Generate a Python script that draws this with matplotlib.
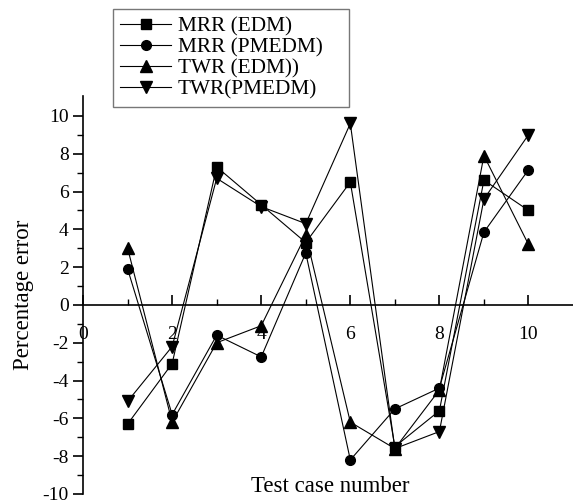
import numpy as np
import matplotlib.pyplot as plt

plt.rcParams['font.family'] = ['Liberation Serif', 'DejaVu Serif']
plt.rcParams['axes.unicode_minus'] = False

cases = [1, 2, 3, 4, 5, 6, 7, 8, 9, 10]
mrr_edm = [-6.3, -3.1, 7.3, 5.3, 3.3, 6.5, -7.5, -5.6, 6.6, 5.0]
mrr_pmedm = [1.9, -5.8, -1.6, -2.75, 2.75, -8.2, -5.5, -4.4, 3.85, 7.15]
twr_edm = [3.0, -6.2, -2.0, -1.1, 3.7, -6.2, -7.6, -4.5, 7.9, 3.2]
twr_pmedm = [-5.1, -2.2, 6.7, 5.2, 4.3, 9.6, -7.6, -6.7, 5.6, 9.0]

fig = plt.figure(figsize=(5.73, 5.03), dpi=100)
ax = fig.add_axes([0.145, 0.018, 0.855, 0.791])

kw = dict(color='black', lw=0.8, markersize=7)
ax.plot(cases, mrr_edm, marker='s', label='MRR (EDM)', **kw)
ax.plot(cases, mrr_pmedm, marker='o', label='MRR (PMEDM)', **kw)
ax.plot(cases, twr_edm, marker='^', markersize=8, color='black', lw=0.8, label='TWR (EDM))')
ax.plot(cases, twr_pmedm, marker='v', markersize=8, color='black', lw=0.8, label='TWR(PMEDM)')

ax.set_xlim(0, 11)
ax.set_ylim(-10, 11.05)
ax.set_xticks(range(0, 11, 2))
ax.set_xticks(range(1, 11, 2), minor=True)
ax.set_yticks(range(-10, 11, 2))
ax.set_yticks(range(-9, 11, 2), minor=True)

ax.spines['top'].set_visible(False)
ax.spines['right'].set_visible(False)
ax.spines['bottom'].set_position(('data', 0))
ax.spines['left'].set_linewidth(1.2)
ax.spines['bottom'].set_linewidth(1.2)

ax.tick_params(axis='y', which='major', direction='out', length=7, width=1.2, labelsize=14)
ax.tick_params(axis='y', which='minor', direction='out', length=4, width=1.0)
ax.tick_params(axis='x', which='major', direction='in', length=7, width=1.2, labelsize=14, pad=15)
ax.tick_params(axis='x', which='minor', direction='in', length=4, width=1.0)

ax.set_ylabel('Percentage error', fontsize=16.5, labelpad=6)
ax.set_xlabel('Test case number', fontsize=16.5)
ax.xaxis.set_label_coords(0.505, 0.045)

x0, y1 = 113 / 573, 1 - 9 / 503
leg = fig.legend(loc='upper left', bbox_to_anchor=(x0, y1 - 0.19, 236 / 573, 0.19),
                 mode='expand', fontsize=15.3, fancybox=False, frameon=True,
                 edgecolor='#555555', handlelength=2.4, labelspacing=0.05,
                 borderpad=0.35, handletextpad=0.3, borderaxespad=0)
leg.get_frame().set_linewidth(1.0)

fig.savefig('out.png', dpi=100)
